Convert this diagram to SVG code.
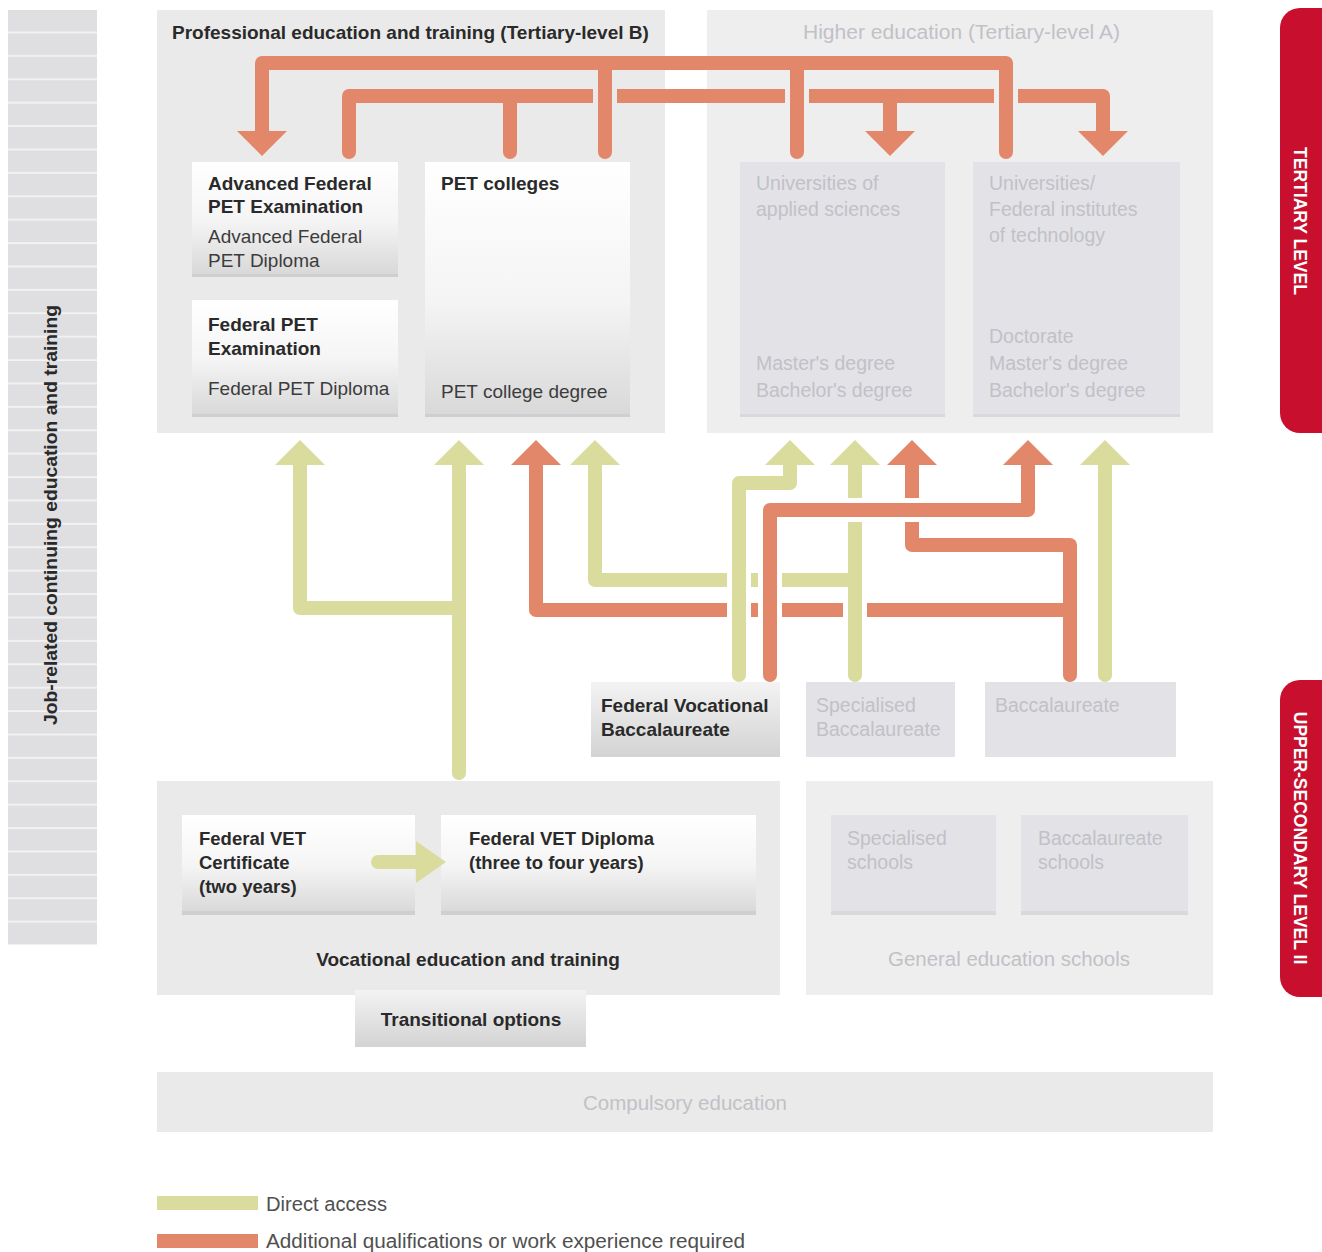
<svg xmlns="http://www.w3.org/2000/svg" width="1322" height="1252" viewBox="0 0 1322 1252">
<defs>
  <linearGradient id="gW" x1="0" y1="0" x2="0" y2="1">
    <stop offset="0" stop-color="#ffffff"/>
    <stop offset="0.5" stop-color="#f5f5f5"/>
    <stop offset="1" stop-color="#d7d7d8"/>
  </linearGradient>
  <linearGradient id="gT" x1="0" y1="0" x2="0" y2="1">
    <stop offset="0" stop-color="#ffffff"/>
    <stop offset="0.55" stop-color="#f4f4f4"/>
    <stop offset="1" stop-color="#d8d8d9"/>
  </linearGradient>
  <linearGradient id="gG" x1="0" y1="0" x2="0" y2="1">
    <stop offset="0" stop-color="#f3f3f3"/>
    <stop offset="1" stop-color="#d3d3d4"/>
  </linearGradient>
  <pattern id="stripes" x="8" y="10" width="89" height="23.4" patternUnits="userSpaceOnUse">
    <rect width="89" height="23.4" fill="#dfdfe1"/>
    <rect y="21.6" width="89" height="1.8" fill="#f3f3f4"/>
  </pattern>
  <marker id="ahO" markerUnits="userSpaceOnUse" markerWidth="25" markerHeight="50" viewBox="0 0 25 50" refX="0" refY="25" orient="auto">
    <path d="M0,0 L25,25 L0,50 Z" fill="#E2876A"/>
  </marker>
  <marker id="ahY" markerUnits="userSpaceOnUse" markerWidth="25" markerHeight="50" viewBox="0 0 25 50" refX="0" refY="25" orient="auto">
    <path d="M0,0 L25,25 L0,50 Z" fill="#DADC9E"/>
  </marker>
  <marker id="ahYs" markerUnits="userSpaceOnUse" markerWidth="30" markerHeight="42" viewBox="0 0 30 42" refX="0" refY="21" orient="auto">
    <path d="M0,0 L30,21 L0,42 Z" fill="#DADC9E"/>
  </marker>
</defs>
<style>
  text { font-family: 'Liberation Sans', Arial, 'DejaVu Sans', sans-serif; }
  .b { font-weight: bold; fill: #2a2a2a; font-size: 19px; }
  .bs { font-weight: bold; fill: #2a2a2a; font-size: 18.5px; }
  .r { font-weight: normal; fill: #3c3c3c; font-size: 19px; }
  .f { font-weight: normal; fill: #c1c1c6; font-size: 19.5px; }
  .lg { font-weight: normal; fill: #505050; font-size: 19.5px; }
  .tab { font-weight: bold; fill: #ffffff; font-size: 17.5px; }
  .panel { fill: #eaeaea; }
  .panel2 { fill: #eeeeef; }
  .boxw { fill: url(#gW); }
  .boxt { fill: url(#gT); }
  .boxg { fill: url(#gG); }
  .boxf { fill: #e3e3e7; }
  .shadow { fill: #cfcfd1; }
  .shadowf { fill: #d9d9dc; }
  .red { fill: #C8102E; }
  .o { fill: none; stroke: #E2876A; stroke-width: 14; stroke-linecap: round; stroke-linejoin: round; }
  .y { fill: none; stroke: #DADC9E; stroke-width: 14; stroke-linecap: round; stroke-linejoin: round; }
  .gapw { fill: #ffffff; }
  .gapp { fill: #eaeaea; }
  .gapp2 { fill: #eeeeef; }
</style>

<!-- Left bar -->
<g id="continuing-education">
  <rect x="8" y="10" width="89" height="935" fill="url(#stripes)"/>
  <text class="b" transform="translate(57,515) rotate(-90)" text-anchor="middle" font-size="18" textLength="420" lengthAdjust="spacingAndGlyphs">Job-related continuing education and training</text>
</g>

<!-- Level tabs -->
<g id="tab-tertiary">
  <rect class="red" x="1280" y="8" width="70" height="425" rx="20"/>
  <text class="tab" transform="translate(1294,221) rotate(90)" text-anchor="middle">TERTIARY LEVEL</text>
</g>
<g id="tab-upper-secondary">
  <rect class="red" x="1280" y="680" width="70" height="317" rx="20"/>
  <text class="tab" transform="translate(1294,838) rotate(90)" text-anchor="middle">UPPER-SECONDARY LEVEL II</text>
</g>

<!-- Panels -->
<g id="panel-pet">
  <rect class="panel" x="157" y="10" width="508" height="423"/>
  <text class="b" x="172" y="39" font-size="18.5">Professional education and training (Tertiary-level B)</text>
</g>
<g id="panel-higher">
  <rect class="panel2" x="707" y="10" width="506" height="423"/>
  <text class="f" x="803" y="39" textLength="317" lengthAdjust="spacingAndGlyphs">Higher education (Tertiary-level A)</text>
</g>

<g id="box-adv-pet">
  <rect class="boxw" x="192" y="162" width="206" height="115"/>
  <rect class="shadow" x="192" y="274" width="206" height="3"/>
  <text class="b" x="208" y="190">Advanced Federal</text>
  <text class="b" x="208" y="213">PET Examination</text>
  <text class="r" x="208" y="243">Advanced Federal</text>
  <text class="r" x="208" y="267">PET Diploma</text>
</g>
<g id="box-fed-pet">
  <rect class="boxw" x="192" y="300" width="206" height="117"/>
  <rect class="shadow" x="192" y="414" width="206" height="3"/>
  <text class="b" x="208" y="331">Federal PET</text>
  <text class="b" x="208" y="355">Examination</text>
  <text class="r" x="208" y="395">Federal PET Diploma</text>
</g>
<g id="box-pet-colleges">
  <rect class="boxt" x="425" y="162" width="205" height="255"/>
  <rect class="shadow" x="425" y="414" width="205" height="3"/>
  <text class="b" x="441" y="190">PET colleges</text>
  <text class="r" x="441" y="398" font-size="18">PET college degree</text>
</g>
<g id="box-uas">
  <rect class="boxf" x="740" y="162" width="205" height="255"/>
  <rect class="shadowf" x="740" y="414" width="205" height="3"/>
  <text class="f" x="756" y="190">Universities of</text>
  <text class="f" x="756" y="216">applied sciences</text>
  <text class="f" x="756" y="370">Master's degree</text>
  <text class="f" x="756" y="397">Bachelor's degree</text>
</g>
<g id="box-universities">
  <rect class="boxf" x="973" y="162" width="207" height="255"/>
  <rect class="shadowf" x="973" y="414" width="207" height="3"/>
  <text class="f" x="989" y="190">Universities/</text>
  <text class="f" x="989" y="216">Federal institutes</text>
  <text class="f" x="989" y="242">of technology</text>
  <text class="f" x="989" y="343">Doctorate</text>
  <text class="f" x="989" y="370">Master's degree</text>
  <text class="f" x="989" y="397">Bachelor's degree</text>
</g>

<!-- Baccalaureates -->
<g id="box-fvb">
  <rect class="boxg" x="591" y="682" width="189" height="75"/>
  <text class="b" x="601" y="712">Federal Vocational</text>
  <text class="b" x="601" y="736">Baccalaureate</text>
</g>
<g id="box-spec-bacc">
  <rect class="boxf" x="806" y="682" width="149" height="75"/>
  <text class="f" x="816" y="712">Specialised</text>
  <text class="f" x="816" y="736">Baccalaureate</text>
</g>
<g id="box-bacc">
  <rect class="boxf" x="985" y="682" width="191" height="75"/>
  <text class="f" x="995" y="712">Baccalaureate</text>
</g>

<!-- Upper-secondary panels -->
<g id="panel-vet">
  <rect class="panel" x="157" y="781" width="623" height="214"/>
  <text class="b" x="468" y="966" text-anchor="middle">Vocational education and training</text>
</g>
<g id="box-vet-cert">
  <rect class="boxw" x="182" y="815" width="233" height="100"/>
  <rect class="shadow" x="182" y="911" width="233" height="4"/>
  <text class="bs" x="199" y="845">Federal VET</text>
  <text class="bs" x="199" y="869">Certificate</text>
  <text class="bs" x="199" y="893">(two years)</text>
</g>
<g id="box-vet-dip">
  <rect class="boxw" x="441" y="815" width="315" height="100"/>
  <rect class="shadow" x="441" y="911" width="315" height="4"/>
  <text class="bs" x="469" y="845">Federal VET Diploma</text>
  <text class="bs" x="469" y="869">(three to four years)</text>
</g>
<g id="panel-general">
  <rect class="panel2" x="806" y="781" width="407" height="214"/>
  <text class="f" x="888" y="966" textLength="242" lengthAdjust="spacingAndGlyphs">General education schools</text>
</g>
<g id="box-spec-schools">
  <rect class="boxf" x="831" y="815" width="165" height="100"/>
  <rect class="shadowf" x="831" y="911" width="165" height="4"/>
  <text class="f" x="847" y="845">Specialised</text>
  <text class="f" x="847" y="869">schools</text>
</g>
<g id="box-bacc-schools">
  <rect class="boxf" x="1021" y="815" width="167" height="100"/>
  <rect class="shadowf" x="1021" y="911" width="167" height="4"/>
  <text class="f" x="1038" y="845">Baccalaureate</text>
  <text class="f" x="1038" y="869">schools</text>
</g>
<g id="box-transitional">
  <rect class="boxg" x="355" y="990" width="231" height="57"/>
  <text class="b" x="471" y="1026" text-anchor="middle">Transitional options</text>
</g>
<g id="panel-compulsory">
  <rect class="panel" x="157" y="1072" width="1056" height="60"/>
  <text class="f" x="583" y="1110" textLength="204" lengthAdjust="spacingAndGlyphs">Compulsory education</text>
</g>

<!-- Connectors -->
<g id="connectors">
  <!-- top: lower line (y 96) -->
  <path class="o" d="M510,152 V96 M349,152 V96 H1103 V131" marker-end="url(#ahO)"/>
  <path class="o" d="M890,96 V131" marker-end="url(#ahO)"/>
  <rect class="gapp" x="593" y="89" width="24" height="14"/>
  <rect class="gapp2" x="785" y="89" width="24" height="14"/>
  <rect class="gapp2" x="994" y="89" width="24" height="14"/>
  <!-- top: upper line (y 63) -->
  <path class="o" d="M605,152 V63 M797,152 V63 M1006,152 V63 H262 V131" marker-end="url(#ahO)"/>

  <!-- middle -->
  <path class="y" d="M459,773 V465" marker-end="url(#ahY)"/>
  <path class="y" d="M459,608 H300 V465" marker-end="url(#ahY)"/>
  <path class="o" d="M1070,675 V610 H536 V465" marker-end="url(#ahO)"/>
  <path class="o" d="M1070,612 V545 H912 V465" marker-end="url(#ahO)"/>
  <rect class="gapw" x="843" y="603" width="24" height="14"/>
  <path class="y" d="M855,675 V465" marker-end="url(#ahY)"/>
  <path class="y" d="M855,580 H595 V465" marker-end="url(#ahY)"/>
  <rect class="gapw" x="758" y="573" width="24" height="14"/>
  <rect class="gapw" x="758" y="603" width="24" height="14"/>
  <rect class="gapw" x="848" y="498" width="14" height="24"/>
  <rect class="gapw" x="905" y="498" width="14" height="24"/>
  <path class="o" d="M770,675 V510 H1028 V465" marker-end="url(#ahO)"/>
  <rect class="gapw" x="727" y="573" width="24" height="14"/>
  <rect class="gapw" x="727" y="603" width="24" height="14"/>
  <path class="y" d="M739,675 V483 H790 V465" marker-end="url(#ahY)"/>
  <path class="y" d="M1105,675 V465" marker-end="url(#ahY)"/>

  <!-- within VET -->
  <path class="y" d="M378,862 H416" stroke-width="13" marker-end="url(#ahYs)"/>
</g>

<!-- Legend -->
<g id="legend">
  <rect x="157" y="1196" width="101" height="14" fill="#DADC9E"/>
  <text class="lg" x="266" y="1211" textLength="121" lengthAdjust="spacingAndGlyphs">Direct access</text>
  <rect x="157" y="1234" width="101" height="14" fill="#E2876A"/>
  <text class="lg" x="266" y="1248" textLength="479" lengthAdjust="spacingAndGlyphs">Additional qualifications or work experience required</text>
</g>
</svg>
